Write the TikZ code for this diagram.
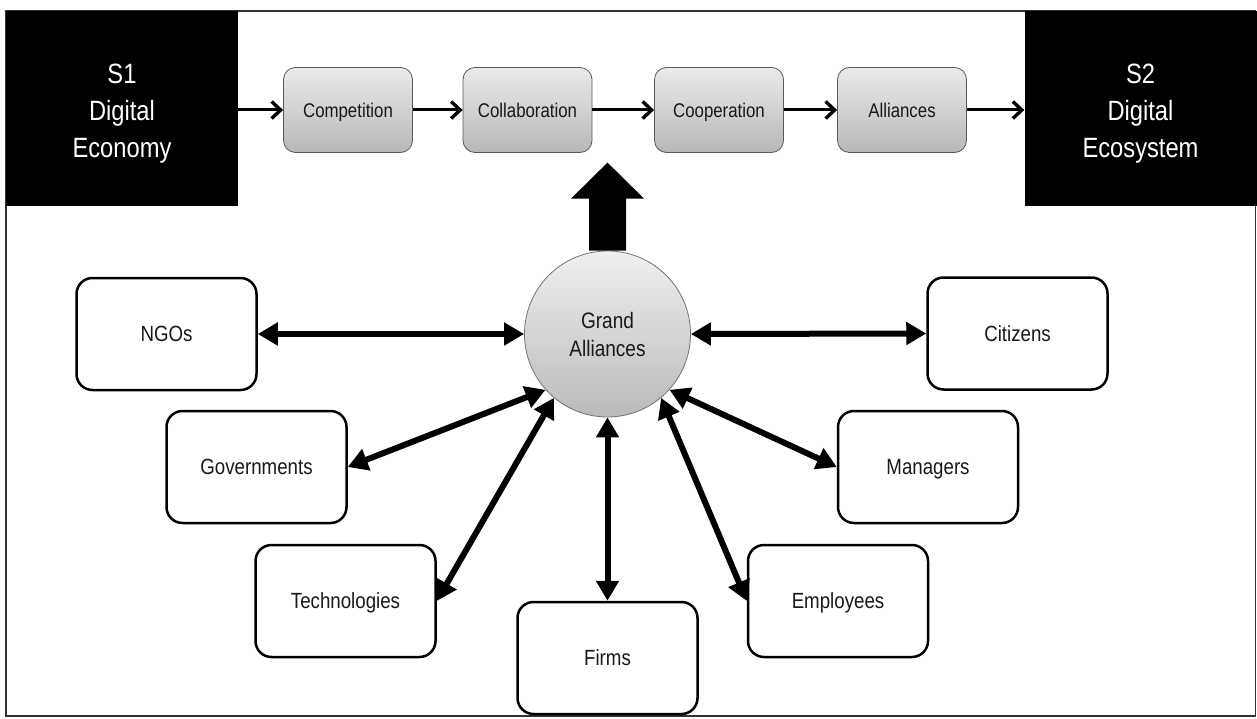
\documentclass[tikz,border=0pt]{standalone}
\usepackage{fontspec}
\setmainfont[FakeStretch=0.85]{Liberation Sans}
\usetikzlibrary{arrows.meta}
\begin{document}
\begin{tikzpicture}[x=1pt,y=-1pt,
  stagebox/.style={fill=black, inner sep=0pt,
    minimum width=232pt, minimum height=195pt},
  stagetext/.style={text=white, align=center, inner sep=0pt,
    font=\fontsize{27.9}{37}\selectfont},
  phase/.style={draw=black!65, line width=0.8pt, rounded corners=12pt,
    top color=black!8, bottom color=black!28, text=black!90,
    minimum width=129pt, minimum height=85pt, inner sep=0pt,
    text height=14.3pt, text depth=0pt,
    font=\fontsize{19.8}{22}\selectfont},
  actor/.style={draw=black, line width=2.5pt, rounded corners=16pt, fill=white,
    minimum width=180pt, minimum height=112pt, inner sep=0pt, text=black!90,
    text height=15.8pt, text depth=0pt,
    font=\fontsize{22}{24}\selectfont},
  hub/.style={circle, draw=black!55, line width=0.8pt,
    top color=black!6, bottom color=black!27, minimum size=166pt, inner sep=0pt,
    align=center, text=black!90, font=\fontsize{22.4}{28}\selectfont},
  flow/.style={line width=3pt, -{Straight Barb[length=9pt,width=17pt,line width=3.4pt]}},
  link/.style={line width=6pt,
    {Triangle[length=20pt,width=22pt]}-{Triangle[length=20pt,width=22pt]}}
]
\useasboundingbox (0,0) rectangle (1257,719);
\fill[white] (0,0) rectangle (1257,719);

% outer frame
\draw[line width=1.6pt, black!80] (6,11) rectangle (1255.5,716);

% start and end states
\node[stagebox] (s1) at (122,108.5) {};
\node[stagetext] at (122,114) {S1\\Digital\\Economy};
\node[stagebox] (s2) at (1140.5,108.5) {};
\node[stagetext] at (1140.5,114) {S2\\Digital\\Ecosystem};

% phases of the transition
\node[phase] (comp) at (348,110) {Competition};
\node[phase] (coll) at (527.5,110) {Collaboration};
\node[phase] (coop) at (719,110) {Cooperation};
\node[phase] (alli) at (902,110) {Alliances};

\draw[flow] (s1.east |- comp.west) -- (comp.west);
\draw[flow] (comp.east) -- (coll.west);
\draw[flow] (coll.east) -- (coop.west);
\draw[flow] (coop.east) -- (alli.west);
\draw[flow] (alli.east) -- (s2.west |- alli.east);

% central hub
\node[hub] (ga) at (607.5,334) {Grand\\Alliances};

% block arrow from the hub up to the transition row
\fill[black, shift={(ga.north)}]
  (-18.5,0) -- (-18.5,-52) -- (-36.5,-52) -- (0,-88) -- (36.5,-52)
  -- (18.5,-52) -- (18.5,0) -- cycle;

% stakeholders
\node[actor] (ngo)  at (166.5,334)  {NGOs};
\node[actor] (gov)  at (256.5,467)  {Governments};
\node[actor] (tech) at (345.5,601)  {Technologies};
\node[actor] (firm) at (607.5,658)  {Firms};
\node[actor] (emp)  at (838,601)    {Employees};
\node[actor] (mgr)  at (928,467)    {Managers};
\node[actor] (cit)  at (1017.5,333.5) {Citizens};

\draw[link] (ngo.east) -- (ga.west);
\draw[link] (ga.east) -- (cit.west);
\draw[link] (gov.east) -- (ga.222);
\draw[link] (tech.east) -- (ga.230);
\draw[link] (ga.south) -- (firm.north);
\draw[link] (emp.west) -- (ga.310);
\draw[link] (mgr.west) -- (ga.318);
\end{tikzpicture}
\end{document}
